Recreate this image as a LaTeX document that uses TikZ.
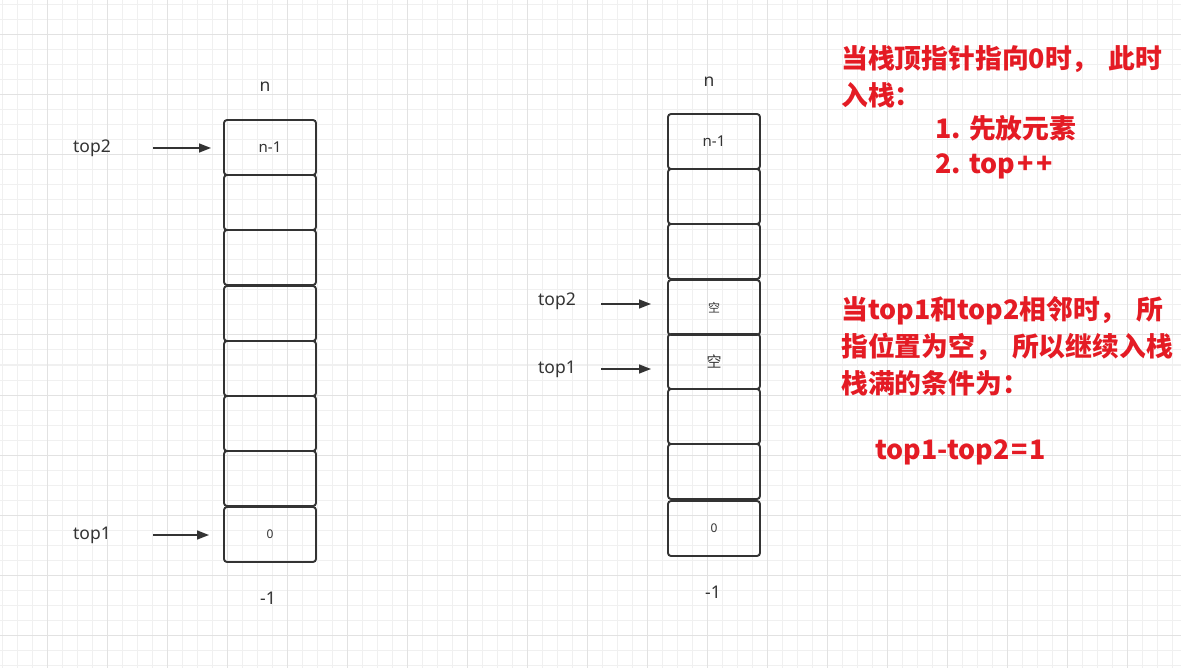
\documentclass[tikz,border=0pt]{standalone}
\usepackage{fontspec}
\setmainfont{Noto Sans}
\newfontfamily\cjk{Noto Sans CJK SC}
\usetikzlibrary{arrows.meta}
\definecolor{tinta}{HTML}{333333}
\definecolor{vermelho}{RGB}{228,27,36}
\definecolor{gradefina}{HTML}{F0F0F0}
\definecolor{gradegrossa}{HTML}{E2E2E2}
\tikzset{
  caixa/.style={draw=tinta, line width=1.9pt, rounded corners=3pt, minimum width=92pt,
    minimum height=55pt, inner sep=0pt, text=tinta, font=\fontsize{15}{15}\selectfont},
  rotulo/.style={text=tinta, inner sep=0pt, font=\fontsize{17.5}{17.5}\selectfont},
  seta/.style={draw=tinta, line width=1.6pt, -{Triangle[length=12pt,width=9pt]}},
  aviso/.style={text=vermelho, anchor=west, inner sep=0pt,
    font=\cjk\bfseries\fontsize{26.8}{26.8}\selectfont},
}
\begin{document}
\begin{tikzpicture}[x=1pt,y=-1pt]  %Pilha compartilhada
  \useasboundingbox (0,0) rectangle (1181,668);
  \fill[white] (0,0) rectangle (1181,668);
      %Grade de fundo
  \foreach \gx in {2.3,17.3,...,1181} \draw[gradefina, line width=1pt] (\gx,0) -- (\gx,668);
  \foreach \gy in {5,20,...,668} \draw[gradefina, line width=1pt] (0,\gy) -- (1181,\gy);
  \foreach \gx in {47.3,107.3,...,1181} \draw[gradegrossa, line width=1pt] (\gx,0) -- (\gx,668);
  \foreach \gy in {35,95,...,668} \draw[gradegrossa, line width=1pt] (0,\gy) -- (1181,\gy);
      %Pilha da esquerda
  \node[caixa] (E1) at (270,147.5) {n-1};
  \node[caixa] (E2) at (270,202.5) {};
  \node[caixa] (E3) at (270,257.5) {};
  \node[caixa] (E4) at (270,313.5) {};
  \node[caixa] (E5) at (270,368.5) {};
  \node[caixa] (E6) at (270,423.5) {};
  \node[caixa] (E7) at (270,478.5) {};
  \node[caixa, font=\fontsize{12}{12}\selectfont] (E8) at (270,534.5) {0};
  \node[rotulo] (nE) at (265,87) {n};
  \node[rotulo] (fimE) at (268,598) {-1};
  \node[rotulo] (top2E) at (92,148) {top2};
  \node[rotulo] (top1E) at (92,535) {top1};
  \coordinate (a2E) at (153,148); \coordinate (b2E) at (211,148);
  \coordinate (a1E) at (153,535); \coordinate (b1E) at (209,535);
  \draw[seta] (a2E) -- (b2E); %Seta top2
  \draw[seta] (a1E) -- (b1E); %Seta top1
      %Pilha da direita
  \node[caixa] (D1) at (714,141.5) {n-1};
  \node[caixa] (D2) at (714,196.5) {};
  \node[caixa] (D3) at (714,251.5) {};
  \node[caixa, font=\cjk\fontsize{12}{12}\selectfont] (D4) at (714,307.5) {空};
  \node[caixa, font=\cjk\fontsize{15}{15}\selectfont] (D5) at (714,361.5) {空};
  \node[caixa] (D6) at (714,416.5) {};
  \node[caixa] (D7) at (714,471.5) {};
  \node[caixa, font=\fontsize{12}{12}\selectfont] (D8) at (714,528.5) {0};
  \node[rotulo] (nD) at (709,82) {n};
  \node[rotulo] (fimD) at (713,592) {-1};
  \node[rotulo] (top2D) at (557,301) {top2};
  \node[rotulo] (top1D) at (557,369) {top1};
  \coordinate (a2D) at (601,304); \coordinate (b2D) at (651,304);
  \coordinate (a1D) at (601,369); \coordinate (b1D) at (651,369);
  \draw[seta] (a2D) -- (b2D); %Seta top2
  \draw[seta] (a1D) -- (b1D); %Seta top1
      %Textos em vermelho
  \node[aviso] (av1) at (841,59.5) {当栈顶指针指向0时，\hspace{10pt}此时};
  \node[aviso] (av2) at (841,95) {入栈：};
  \node[aviso] (av3) at (935,128) {1. 先放元素};
  \node[aviso] (av4) at (935,166) {2. top\kern2pt+\kern3pt+};
  \node[aviso] (av5) at (841,311) {当top1和top2相邻时，\hspace{10pt}所};
  \node[aviso] (av6) at (841,347) {指位置为空，\hspace{10pt}所以继续入栈};
  \node[aviso] (av7) at (841,383) {栈满的条件为：};
  \node[aviso] (av8) at (875,452) {top1-top2\kern2pt=\kern2pt1};
\end{tikzpicture}
\end{document}
